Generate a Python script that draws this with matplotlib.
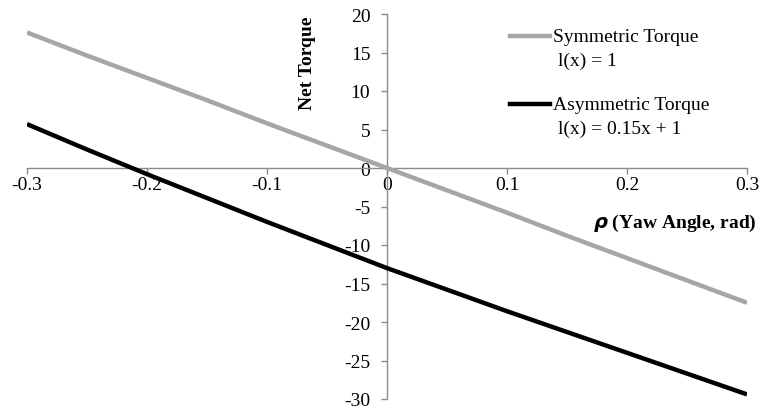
import matplotlib
matplotlib.use("Agg")
import matplotlib.pyplot as plt
from matplotlib.lines import Line2D

plt.rcParams['font.family'] = ['Liberation Serif', 'DejaVu Serif']
plt.rcParams['mathtext.fontset'] = 'custom'
plt.rcParams['mathtext.bf'] = 'Liberation Serif:bold'
plt.rcParams['mathtext.it'] = 'Liberation Serif:italic'

# Data
yaw = [-0.3, -0.25, -0.2, -0.15, -0.1, -0.05, 0.0, 0.05, 0.1, 0.15, 0.2, 0.25, 0.3]
symmetric = [17.6, 14.6, 11.7, 8.8, 5.8, 2.9, 0.0, -2.9, -5.8, -8.8, -11.7, -14.6, -17.5]
asymmetric = [5.7, 2.4, -0.8, -3.9, -7.0, -10.0, -13.0, -15.8, -18.6, -21.3, -24.0, -26.7, -29.4]
x_ticks = [-0.3, -0.2, -0.1, 0, 0.1, 0.2, 0.3]
x_ticklabels = ["-0.3", "-0.2", "-0.1", "0", "0.1", "0.2", "0.3"]
y_ticks = [20, 15, 10, 5, 0, -5, -10, -15, -20, -25, -30]
series_labels = ["Symmetric Torque", "Asymmetric Torque"]
series_sub = ["l(x) = 1", "l(x) = 0.15x + 1"]

W, H = 767, 410
fig = plt.figure(figsize=(W / 100, H / 100), dpi=100)
ax = fig.add_axes([27 / W, 1 - 400 / H, 720 / W, (400 - 15) / H])

gray = "#a6a6a6"
axis_col = "#8c8c8c"
ax.plot(yaw, symmetric, color=gray, lw=3.2, solid_capstyle='butt', zorder=3)
ax.plot(yaw, asymmetric, color="black", lw=3.2, solid_capstyle='butt', zorder=3)

ax.set_xlim(-0.3, 0.3)
ax.set_ylim(-30, 20)
ax.spines['left'].set_position(('data', 0))
ax.spines['bottom'].set_position(('data', 0))
ax.spines['top'].set_visible(False)
ax.spines['right'].set_visible(False)
for s in ('left', 'bottom'):
    ax.spines[s].set_color(axis_col)
    ax.spines[s].set_linewidth(1.0)

ax.set_xticks(x_ticks)
ax.set_xticklabels(x_ticklabels)
ax.set_yticks(y_ticks)
ax.set_yticklabels([str(v) for v in y_ticks])
ax.tick_params(axis='x', direction='out', length=4, width=1, color=axis_col,
               labelsize=14, pad=2)
ax.tick_params(axis='y', direction='out', length=4, width=1, color=axis_col,
               labelsize=14, pad=8)
for lab in ax.get_xticklabels() + ax.get_yticklabels():
    lab.set_clip_on(False)

# Axis titles
fig.text(308 / W, 1 - 63 / H, "Net Torque", rotation=90, fontsize=14,
         fontweight='bold', ha='center', va='center')
fig.text(757 / W, 1 - 223 / H, r"$\boldsymbol{\rho}$ (Yaw Angle, rad)", fontsize=14,
         fontweight='bold', ha='right', va='center')

# Legend (manual, to align handle with first text line)
colors = [gray, "black"]
rows = [37, 105]
for col, lab, sub, yy in zip(colors, series_labels, series_sub, rows):
    fig.add_artist(Line2D([510 / W, 550 / W], [1 - yy / H, 1 - yy / H],
                          color=col, lw=3.2, transform=fig.transFigure))
    fig.text(553 / W, 1 - yy / H, lab, fontsize=14, ha='left', va='center')
    fig.text(558 / W, 1 - (yy + 24) / H, sub, fontsize=14, ha='left', va='center')

fig.savefig("out.png", dpi=100)
